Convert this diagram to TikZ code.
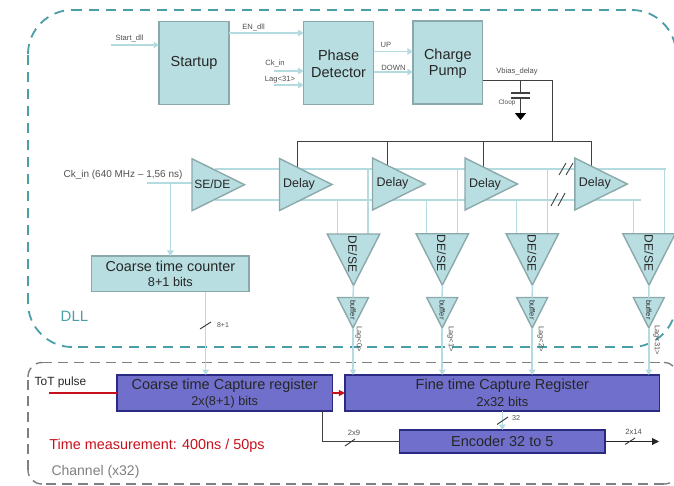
\documentclass[tikz,border=0pt]{standalone}
\usepackage{fontspec}
\setmainfont{Liberation Sans}
\usetikzlibrary{arrows.meta,shapes.geometric,calc}
\definecolor{paleT}{HTML}{B4DCE0}
\definecolor{fillT}{HTML}{B8DEE1}
\definecolor{edgeT}{HTML}{8BA8AA}
\definecolor{dllC}{HTML}{4A9EA8}
\definecolor{chanC}{HTML}{7F7F7F}
\definecolor{regF}{HTML}{7070CC}
\definecolor{regE}{HTML}{2A2A80}
\definecolor{redC}{HTML}{C8101C}
\definecolor{darkL}{HTML}{404040}
\definecolor{txtS}{HTML}{505050}
\newcommand{\fsz}[1]{\fontsize{#1}{#1}\selectfont}
\tikzset{
  blockT/.style={draw=edgeT,fill=fillT,line width=1.4pt,inner sep=0pt,outer sep=0pt,align=center,text=black!85,font=\fontsize{14.5}{16.5}\selectfont},
  regB/.style={draw=regE,fill=regF,line width=1.4pt,inner sep=0pt,outer sep=0pt,align=center,text=black!85},
  triR/.style={isosceles triangle,isosceles triangle stretches,draw=edgeT,fill=fillT,line width=1.4pt,inner sep=0pt,outer sep=0pt,minimum width=52pt,minimum height=52.5pt,anchor=lower side},
  triD/.style={triR,shape border rotate=-90,minimum width=52.5pt,minimum height=51.5pt},
  triB/.style={triR,shape border rotate=-90,minimum width=31pt,minimum height=30.5pt},
  paleW/.style={draw=paleT,line width=1.5pt},
  paleA/.style={paleW,-{Triangle[length=5.5pt,width=6.5pt]}},
  darkW/.style={draw=darkL,line width=1pt},
  tickM/.style={draw=black!80,line width=0.9pt},
  tiny/.style={inner sep=0pt,text=txtS,font=\fsz{7.6}},
  midT/.style={inner sep=0pt,text=black!85,font=\fsz{12.5}},
  bufT/.style={inner sep=0pt,text=black!85,font=\fsz{7.5},rotate=-90},
  desT/.style={inner sep=0pt,text=black!85,font=\fsz{12},rotate=-90},
  lagT/.style={inner sep=0pt,text=txtS,font=\fsz{7.4},rotate=-90},
  dllB/.style={draw=dllC,line width=1.8pt,dash pattern=on 10pt off 7pt},
  chanB/.style={draw=chanC,line width=1.4pt,dash pattern=on 10pt off 6pt},
}
\begin{document}
\begin{tikzpicture}[x=1pt,y=-1pt]
\useasboundingbox (0,0) rectangle (674,485);
\clip (0,0) rectangle (674,485);
% region frames
\draw[dllB] (28,54) .. controls (28,30) and (48,10) .. (72,10);
\draw[dllB] (72,10) -- (632,10);
\draw[dllB] (632,10) .. controls (656,10) and (676,30) .. (676,54);
\draw[dllB] (676,54) -- (676,303);
\draw[dllB] (676,303) .. controls (676,327) and (656,347) .. (632,347);
\draw[dllB] (632,347) -- (72,347);
\draw[dllB] (72,347) .. controls (48,347) and (28,327) .. (28,303);
\draw[dllB] (28,303) -- (28,54);
\draw[chanB] (28,377) .. controls (28,369) and (34,362.5) .. (42,362.5);
\draw[chanB] (42,362.5) -- (664,362.5);
\draw[chanB] (664,362.5) .. controls (672,362.5) and (678,369) .. (678,377);
\draw[chanB] (678,470) .. controls (678,478) and (672,484) .. (664,484);
\draw[chanB] (664,484) -- (42,484);
\draw[chanB] (42,484) .. controls (34,484) and (28,478) .. (28,470);
\draw[chanB] (28,470) -- (28,377);
\node[inner sep=0pt,text=dllC,font=\fsz{15}] (dlllab) at (74.5,316) {DLL};
\node[inner sep=0pt,text=chanC,font=\fsz{14}] (chanlab) at (95.5,472) {Channel (x32)};
\node[inner sep=0pt,text=redC,font=\fsz{14.4}] (timelab) at (157,445.5) {Time measurement: 400ns / 50ps};
\node[inner sep=0pt,text=black!85,font=\fsz{11.9}] (totlab) at (60.5,382) {ToT pulse};

% top blocks
\node[blockT,minimum width=70pt,minimum height=82.5pt] (startup) at (194,63) {Startup};
\node[blockT,minimum width=69.8pt,minimum height=83pt] (phase) at (338.6,63) {};
\node[inner sep=0pt,align=center,text=black!85,font=\fontsize{14.5}{16.5}\selectfont] (phaset) at (338.6,64) {Phase\\Detector};
\node[blockT,minimum width=69.7pt,minimum height=83pt] (charge) at (447.8,62.5) {};
\node[inner sep=0pt,align=center,text=black!85,font=\fontsize{14.5}{16.5}\selectfont] (charget) at (447.8,63.5) {Charge\\Pump};

% registers
\node[regB,minimum width=215.3pt,minimum height=36pt] (coarsecap) at (224.7,393) {};
\node[inner sep=0pt,text=black!85,font=\fsz{14.5}] (coarsecapa) at (224.7,386) {Coarse time Capture register};
\node[inner sep=0pt,text=black!85,font=\fsz{12.7}] (coarsecapb) at (224.7,402) {2x(8+1) bits};
\node[regB,minimum width=314.7pt,minimum height=36pt] (finecap) at (502.3,393) {};
\node[inner sep=0pt,text=black!85,font=\fsz{14.5}] (finecapa) at (502.3,385.5) {Fine time Capture Register};
\node[inner sep=0pt,text=black!85,font=\fsz{13}] (finecapb) at (502.3,402) {2x32 bits};
\node[regB,minimum width=205.3pt,minimum height=23pt,font=\fsz{14.5}] (encoder) at (502.3,441.5) {Encoder 32 to 5};

% top inputs
\coordinate (startin) at (111,45);
\coordinate (enout) at (startup.east |- 0,33);
\coordinate (ckin) at (274,71);
\coordinate (lagin) at (274,85);
\coordinate (upout) at (phase.east |- 0,51.5);
\coordinate (downout) at (phase.east |- 0,72);
\draw[paleA] (startin) -- (startup.west |- startin);
\draw[paleA] (enout) -- (phase.west |- enout);
\draw[paleA] (ckin) -- (phase.west |- ckin);
\draw[paleA] (lagin) -- (phase.west |- lagin);
\draw[paleA] (upout) -- (charge.west |- upout);
\draw[paleA] (downout) -- (charge.west |- downout);
\node[tiny] (l1) at (129.5,38) {Start\_dll};
\node[tiny] (l2) at (253.5,27) {EN\_dll};
\node[tiny] (l3) at (275,63.5) {Ck\_in};
\node[tiny] (l4) at (280,80) {Lag<31>};
\node[tiny] (l5) at (386,44.5) {UP};
\node[tiny] (l6) at (393.5,67.5) {DOWN};

% bias
\coordinate (vb0) at (charge.east |- 0,80);
\coordinate (vb1) at (552,80);
\coordinate (busR) at (591.5,141);
\coordinate (busL) at (297,141);
\coordinate (busJ) at (552,141);
\coordinate (capT) at (520.5,80);
\coordinate (capA) at (520.5,93);
\coordinate (capB) at (520.5,98);
\coordinate (capG) at (520.5,113);
\draw[darkW] (vb0) -- (vb1) -- (busJ);
\draw[darkW] (busL) -- (busR);
\draw[darkW] (capT) -- (capA);
\draw[darkW] (capB) -- (capG);
\draw[darkW,line width=1.3pt] ($(capA)+(-9.5,0)$) -- ($(capA)+(9.5,0)$);
\draw[darkW,line width=1.3pt] ($(capB)+(-9.5,0)$) -- ($(capB)+(9.5,0)$);
\fill[black] ($(capG)+(-5.7,0)$) -- ($(capG)+(5.7,0)$) -- ($(capG)+(0,7)$) -- cycle;
\node[tiny] (vbl) at (517,71.5) {Vbias\_delay};
\node[tiny,font=\fsz{6.5}] (cl) at (507,103) {Cloop};
\draw[darkW] (busL) -- (297,170);
\draw[darkW] (387,141) -- (387,170);
\draw[darkW] (483,141) -- (483,170);
\draw[darkW] (busR) -- (591.5,170);

% clock rails
\coordinate (topL) at (215,169);
\coordinate (topR) at (665.7,169);
\coordinate (botL) at (215,200);
\coordinate (botR) at (641,200);
\draw[paleW] (topL) -- (topR);
\draw[paleW] (botL) -- (botR);

% clock input and coarse counter
\node[inner sep=0pt,text=txtS,font=\fsz{10}] (cklab) at (123,174.5) {Ck\_in (640 MHz – 1,56 ns)};
\node[blockT,minimum width=157.3pt,minimum height=35.7pt,font=\fsz{14.4}] (counter) at (170.4,273.8) {};
\node[inner sep=0pt,text=black!85,font=\fsz{14.4}] (countera) at (170.4,266) {Coarse time counter};
\node[inner sep=0pt,text=black!85,font=\fsz{12.7}] (counterb) at (170.4,282) {8+1 bits};
\coordinate (ckstart) at (147,183);
\coordinate (ckj) at (170.4,183);
\draw[paleW] (ckstart) -- (192,183);
\draw[paleA] (ckj) -- (counter.north);
\coordinate (cntout) at (205.7,291.7);
\draw[paleA] (cntout) -- (cntout |- coarsecap.north);
\draw[tickM] (200,329) -- (211,322);
\node[tiny,font=\fsz{7}] (l81) at (223,325.5) {8+1};

% delay chain
\node[triR] (sede) at (192,184.7) {};
\node[triR] (del1) at (279.5,184.5) {};
\node[triR] (del2) at (372.5,184) {};
\node[triR] (del3) at (465,184) {};
\node[triR] (del4) at (574.8,184) {};
\node[midT,font=\fsz{12}] (sedet) at (212.3,184.5) {SE/DE};
\node[midT] (del1t) at (299,184) {Delay};
\node[midT] (del2t) at (392.5,183.5) {Delay};
\node[midT] (del3t) at (485,184) {Delay};
\node[midT] (del4t) at (594.8,183.5) {Delay};
\draw[tickM,draw=black!75] (559,175) -- (566,163) (566,175) -- (573,163);
\draw[tickM,draw=black!75] (551,206) -- (558,193) (558,206) -- (565,193);

% converters
\coordinate (c1a) at (337.3,234);
\coordinate (c1b) at (368,234);
\coordinate (c2a) at (426.7,234);
\coordinate (c2b) at (457.5,234);
\coordinate (c3a) at (516.7,234);
\coordinate (c3b) at (547.5,234);
\coordinate (c4a) at (633.3,234);
\coordinate (c4b) at (664.3,234);
\foreach \p in {c1a,c2a,c3a,c4a} \draw[paleW] (\p |- botL) -- (\p);
\foreach \p in {c1b,c2b,c3b,c4b} \draw[paleW] (\p |- topL) -- (\p);

\node[triD] (ds1) at (353.5,234) {};
\node[triD] (ds2) at (442.3,233.7) {};
\node[triD] (ds3) at (532.3,233.7) {};
\node[triD] (ds4) at (649,233.7) {};
\node[triB] (bf1) at (353,297.5) {};
\node[triB] (bf2) at (442.2,297.5) {};
\node[triB] (bf3) at (532.2,297.5) {};
\node[triB] (bf4) at (648.8,297.5) {};
\foreach \i in {1,2,3,4} {
  \draw[paleW] (ds\i.apex) -- (bf\i.lower side);
  \draw[paleA] (bf\i.apex) -- (bf\i.apex |- finecap.north);
}
\node[desT] (ds1t) at (352.7,254) {DE/SE};
\node[desT] (ds2t) at (441.3,253) {DE/SE};
\node[desT] (ds3t) at (532,253) {DE/SE};
\node[desT] (ds4t) at (649,253) {DE/SE};
\node[bufT] (bf1t) at (353,310) {buffer};
\node[bufT] (bf2t) at (442.2,310) {buffer};
\node[bufT] (bf3t) at (532.2,310) {buffer};
\node[bufT] (bf4t) at (648.8,310) {buffer};
\node[lagT] (lg0) at (358.7,339) {Lag<0>};
\node[lagT] (lg1) at (450.7,339) {Lag<1>};
\node[lagT] (lg2) at (540.7,339) {Lag<2>};
\node[lagT] (lg3) at (656.7,340) {Lag<31>};

% channel wiring
\coordinate (totstart) at (49,393);
\draw[draw=redC,line width=1.2pt] (totstart) -- (coarsecap.west |- totstart);
\draw[draw=redC,line width=1.2pt,-{Triangle[length=6pt,width=6pt]}] (coarsecap.east |- totstart) -- (finecap.west |- totstart);
\coordinate (capout) at (322.7,411);
\coordinate (capbend) at (322.7,441.5);
\draw[darkW] (capout) -- (capbend) -- (encoder.west);
\coordinate (encend) at (659,441.5);
\draw[darkW,draw=black!85,-{Triangle[length=7pt,width=7pt]}] (encoder.east) -- (encend);
\draw[paleA] (finecap.south) -- (encoder.north);
\draw[tickM] (497,424.5) -- (508,417);
\draw[tickM] (345,446) -- (355,439);
\draw[tickM] (625,444.5) -- (635,438);
\node[tiny,font=\fsz{7.2}] (l32) at (516,418.5) {32};
\node[tiny] (l29) at (354,433) {2x9};
\node[tiny] (l214) at (633.7,431.5) {2x14};
\end{tikzpicture}
\end{document}
